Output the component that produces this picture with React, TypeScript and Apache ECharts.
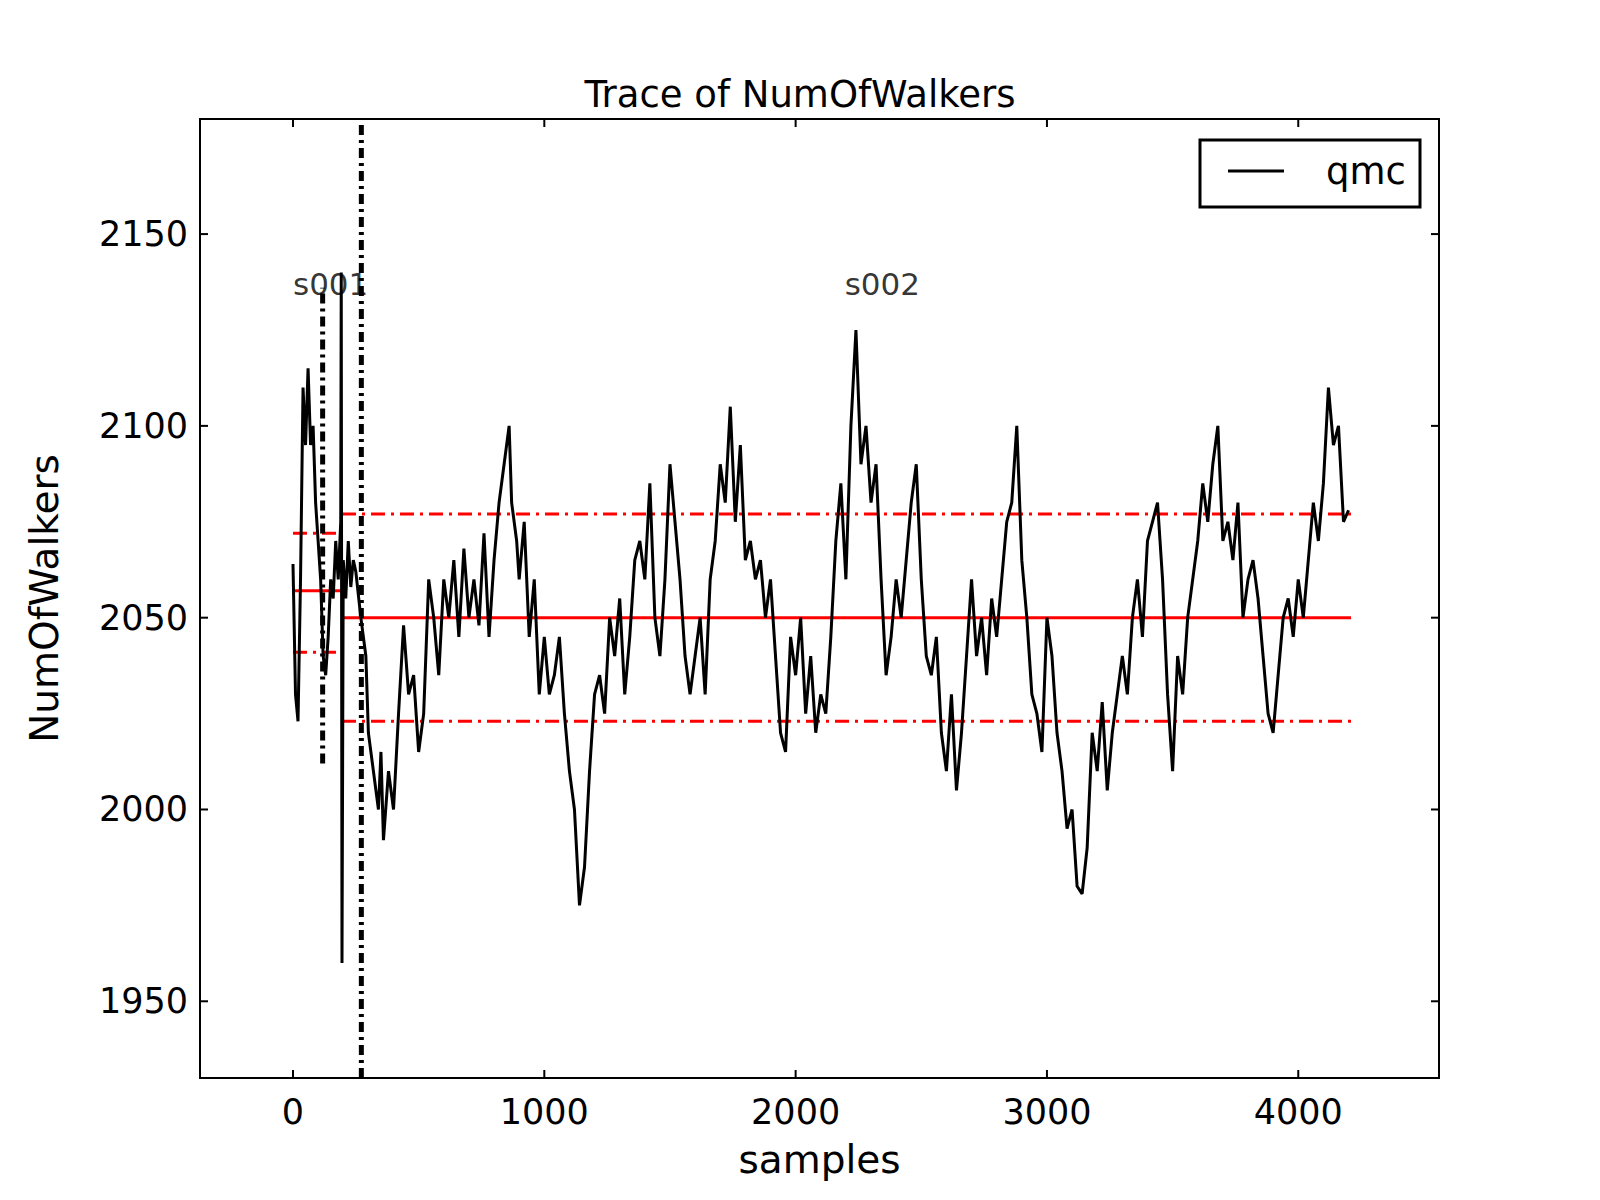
import { useEffect, useRef } from 'react';
import * as echarts from 'echarts';

const traceX = [0, 10, 20, 30, 40, 50, 60, 70, 80, 90, 100, 110, 120, 130, 140, 150, 160, 170, 180, 190, 192, 195, 200, 210, 220, 230, 240, 250, 270, 290, 300, 320, 340, 350, 360, 380, 400, 420, 440, 460, 480, 500, 520, 540, 560, 580, 600, 620, 640, 660, 680, 700, 720, 740, 760, 780, 800, 820, 840, 860, 870, 890, 900, 920, 940, 960, 980, 1000, 1020, 1040, 1060, 1080, 1100, 1120, 1140, 1160, 1180, 1200, 1220, 1240, 1260, 1280, 1300, 1320, 1340, 1360, 1380, 1400, 1420, 1440, 1460, 1480, 1500, 1520, 1540, 1560, 1580, 1600, 1620, 1640, 1660, 1680, 1700, 1720, 1740, 1760, 1780, 1800, 1820, 1840, 1860, 1880, 1900, 1920, 1940, 1960, 1980, 2000, 2020, 2040, 2060, 2080, 2100, 2120, 2140, 2160, 2180, 2200, 2220, 2240, 2260, 2280, 2300, 2320, 2340, 2360, 2380, 2400, 2420, 2440, 2460, 2480, 2500, 2520, 2540, 2560, 2580, 2600, 2620, 2640, 2660, 2680, 2700, 2720, 2740, 2760, 2780, 2800, 2820, 2840, 2860, 2880, 2900, 2920, 2940, 2960, 2980, 3000, 3020, 3040, 3060, 3080, 3100, 3120, 3140, 3160, 3180, 3200, 3220, 3240, 3260, 3280, 3300, 3320, 3340, 3360, 3380, 3400, 3420, 3440, 3460, 3480, 3500, 3520, 3540, 3560, 3580, 3600, 3620, 3640, 3660, 3680, 3700, 3720, 3740, 3760, 3780, 3800, 3820, 3840, 3860, 3880, 3900, 3920, 3940, 3960, 3980, 4000, 4020, 4040, 4060, 4080, 4100, 4120, 4140, 4160, 4180, 4200];
const traceY = [2064, 2030, 2023, 2060, 2110, 2095, 2115, 2095, 2100, 2080, 2070, 2060, 2040, 2035, 2045, 2060, 2055, 2070, 2060, 2075, 2140, 1960, 2065, 2055, 2070, 2058, 2065, 2062, 2050, 2040, 2020, 2010, 2000, 2015, 1992, 2010, 2000, 2025, 2048, 2030, 2035, 2015, 2025, 2060, 2050, 2035, 2060, 2050, 2065, 2045, 2068, 2050, 2060, 2048, 2072, 2045, 2065, 2080, 2090, 2100, 2080, 2070, 2060, 2075, 2045, 2060, 2030, 2045, 2030, 2035, 2045, 2025, 2010, 2000, 1975, 1985, 2010, 2030, 2035, 2025, 2050, 2040, 2055, 2030, 2045, 2065, 2070, 2060, 2085, 2050, 2040, 2060, 2090, 2075, 2060, 2040, 2030, 2040, 2050, 2030, 2060, 2070, 2090, 2080, 2105, 2075, 2095, 2065, 2070, 2060, 2065, 2050, 2060, 2040, 2020, 2015, 2045, 2035, 2050, 2025, 2040, 2020, 2030, 2025, 2045, 2070, 2085, 2060, 2100, 2125, 2090, 2100, 2080, 2090, 2060, 2035, 2045, 2060, 2050, 2065, 2080, 2090, 2060, 2040, 2035, 2045, 2020, 2010, 2030, 2005, 2020, 2040, 2060, 2040, 2050, 2035, 2055, 2045, 2060, 2075, 2080, 2100, 2065, 2050, 2030, 2025, 2015, 2050, 2040, 2020, 2010, 1995, 2000, 1980, 1978, 1990, 2020, 2010, 2028, 2005, 2020, 2030, 2040, 2030, 2050, 2060, 2045, 2070, 2075, 2080, 2060, 2030, 2010, 2040, 2030, 2050, 2060, 2070, 2085, 2075, 2090, 2100, 2070, 2075, 2065, 2080, 2050, 2060, 2065, 2055, 2040, 2025, 2020, 2035, 2050, 2055, 2045, 2060, 2050, 2065, 2080, 2070, 2085, 2110, 2095, 2100, 2075, 2078];

// segment statistics: [xStart, xEnd, mean, lower, upper]
const seg1 = [0, 195, 2057, 2041, 2072];
const seg2 = [195, 4210, 2050, 2023, 2077];
const dividerX = [118, 272];
const divider1Y = [2012, 2136];
const labelNames = ['s001', 's002'];
const labelX = [0, 2195];
const labelY = [2137, 2137];

const xTicks = [0, 1000, 2000, 3000, 4000];
const yTicks = [1950, 2000, 2050, 2100, 2150];
const FONT = 'DejaVu Sans';

export default function App() {
  const ref = useRef<HTMLDivElement | null>(null);
  useEffect(() => {
    document.body.style.margin = '0';
    const el = ref.current;
    if (!el) return;
    const chart = echarts.init(el, undefined, { renderer: 'svg' });
    const hline = (s: number[], v: number, solid: boolean) => ({
      type: 'line', data: [[s[0], v], [s[1], v]], symbol: 'none', silent: true,
      lineStyle: { color: '#ff0000', width: 3, type: solid ? 'solid' : [14, 6, 3, 6] },
    });
    chart.setOption({
      animation: false,
      backgroundColor: '#fff',
      title: { text: 'Trace of NumOfWalkers', left: 'center', top: 71, textStyle: { fontFamily: FONT, fontSize: 37, fontWeight: 'normal', color: '#000' } },
      grid: { left: 200, top: 119, width: 1239, height: 959, show: true, borderColor: '#000', borderWidth: 2, backgroundColor: 'transparent' },
      xAxis: {
        type: 'value', min: -370, max: 4560, interval: 10,
        name: 'samples', nameLocation: 'middle', nameGap: 62,
        nameTextStyle: { fontFamily: FONT, fontSize: 39, color: '#000' },
        axisLine: { show: false }, axisTick: { show: false }, splitLine: { show: false },
        axisLabel: { interval: 0, hideOverlap: false, showMinLabel: false, showMaxLabel: false, margin: 16, fontFamily: FONT, fontSize: 35, color: '#000', formatter: (v: number) => (xTicks.includes(v) ? String(v) : '') },
      },
      yAxis: {
        type: 'value', min: 1930, max: 2180, interval: 10,
        name: 'NumOfWalkers', nameLocation: 'middle', nameGap: 136,
        nameTextStyle: { fontFamily: FONT, fontSize: 39, color: '#000' },
        axisLine: { show: false }, axisTick: { show: false }, splitLine: { show: false },
        axisLabel: { interval: 0, showMinLabel: false, showMaxLabel: false, margin: 12, fontFamily: FONT, fontSize: 35, color: '#000', formatter: (v: number) => (yTicks.includes(v) ? String(v) : '') },
      },
      series: [
        hline(seg1, seg1[2], true), hline(seg1, seg1[3], false), hline(seg1, seg1[4], false),
        hline(seg2, seg2[2], true), hline(seg2, seg2[3], false), hline(seg2, seg2[4], false),
        {
          type: 'line', data: traceX.map((x, i) => [x, traceY[i]]), symbol: 'none', silent: true,
          lineStyle: { color: '#000', width: 3 },
        },
        {
          type: 'line', data: [[dividerX[0], divider1Y[0]], [dividerX[0], divider1Y[1]]], symbol: 'none', silent: true,
          lineStyle: { color: '#000', width: 5, type: [10, 5, 3, 5] },
        },
        {
          type: 'line', data: [[dividerX[1], 1930], [dividerX[1], 2180]], symbol: 'none', silent: true,
          lineStyle: { color: '#000', width: 5, type: [10, 5, 3, 5] },
        },
        {
          type: 'scatter', symbolSize: 0, silent: true,
          data: labelNames.map((n, i) => ({ value: [labelX[i], labelY[i]], name: n })),
          label: { show: true, position: 'right', distance: 0, formatter: '{b}', fontFamily: FONT, fontSize: 31, color: '#000' },
        },
      ],
    });
    // matplotlib-style inward ticks and legend
    const g: any[] = [];
    const top = 119, bottom = 1078, left = 200, right = 1439, L = 8;
    xTicks.forEach((v) => {
      const px = chart.convertToPixel({ xAxisIndex: 0 }, v) as number;
      g.push({ type: 'line', shape: { x1: px, y1: bottom, x2: px, y2: bottom - L }, style: { stroke: '#000', lineWidth: 2 } });
      g.push({ type: 'line', shape: { x1: px, y1: top, x2: px, y2: top + L }, style: { stroke: '#000', lineWidth: 2 } });
    });
    yTicks.forEach((v) => {
      const py = chart.convertToPixel({ yAxisIndex: 0 }, v) as number;
      g.push({ type: 'line', shape: { x1: left, y1: py, x2: left + L, y2: py }, style: { stroke: '#000', lineWidth: 2 } });
      g.push({ type: 'line', shape: { x1: right, y1: py, x2: right - L, y2: py }, style: { stroke: '#000', lineWidth: 2 } });
    });
    g.push({ type: 'rect', shape: { x: 1200, y: 140, width: 220, height: 67 }, style: { fill: '#fff', stroke: '#000', lineWidth: 3 } });
    g.push({ type: 'line', shape: { x1: 1228, y1: 171, x2: 1284, y2: 171 }, style: { stroke: '#000', lineWidth: 3 } });
    g.push({ type: 'text', x: 1326, y: 171, style: { text: 'qmc', fontFamily: FONT, fontSize: 37, fill: '#000', verticalAlign: 'middle' } });
    chart.setOption({ graphic: g });
    return () => chart.dispose();
  }, []);
  return <div ref={ref} style={{ width: 1600, height: 1200 }} />;
}
